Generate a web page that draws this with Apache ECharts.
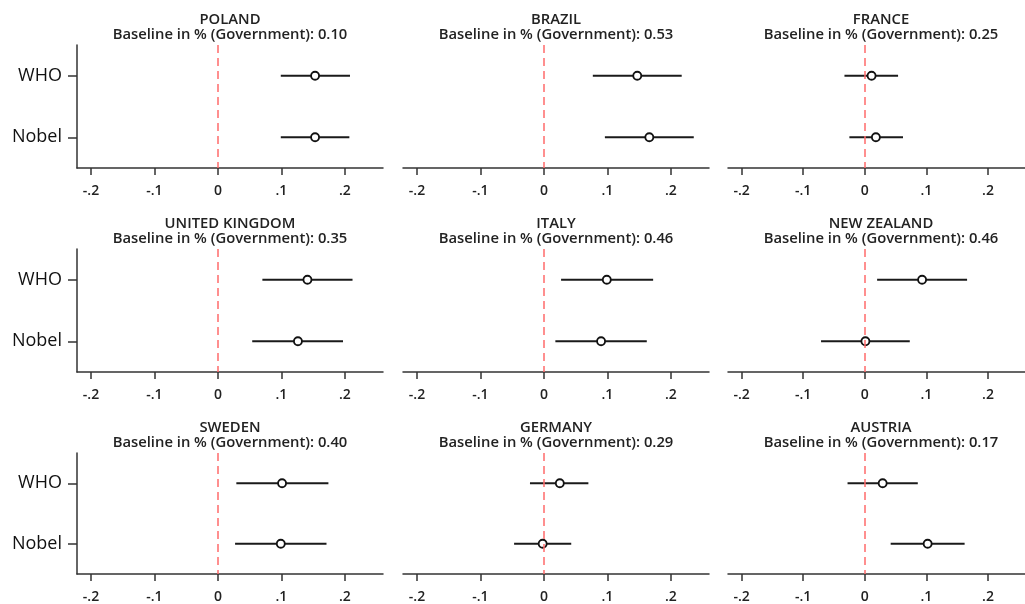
<!DOCTYPE html>
<html>
<head>
<meta charset="utf-8">
<script src="https://cdn.jsdelivr.net/npm/echarts@6/dist/echarts.min.js"></script>
<style>
  html, body { margin: 0; padding: 0; background: #fff; }
  #chart { width: 1025px; height: 604px; }
</style>
</head>
<body>
<div id="chart"></div>
<script>
// panels, read left to right, top to bottom
const countries = ['POLAND', 'BRAZIL', 'FRANCE', 'UNITED KINGDOM', 'ITALY', 'NEW ZEALAND', 'SWEDEN', 'GERMANY', 'AUSTRIA'];
const baselines = ['0.10', '0.53', '0.25', '0.35', '0.46', '0.46', '0.40', '0.29', '0.17'];
const treatments = ['WHO', 'Nobel'];

// point estimates and 95% CI bounds
const whoEst = [0.153, 0.147, 0.011, 0.141, 0.099, 0.093, 0.101, 0.025, 0.029];
const whoLow = [0.099, 0.077, -0.033, 0.070, 0.027, 0.020, 0.029, -0.022, -0.028];
const whoHigh = [0.208, 0.217, 0.054, 0.212, 0.172, 0.166, 0.174, 0.070, 0.086];

const nobelEst = [0.153, 0.166, 0.018, 0.126, 0.090, 0.001, 0.099, -0.002, 0.102];
const nobelLow = [0.099, 0.096, -0.025, 0.054, 0.018, -0.071, 0.027, -0.047, 0.042];
const nobelHigh = [0.207, 0.236, 0.062, 0.197, 0.162, 0.073, 0.171, 0.043, 0.162];

const xTickValues = [-0.2, -0.1, 0, 0.1, 0.2];
const xTickLabels = ['-.2', '-.1', '0', '.1', '.2'];

// layout
const colLeft = [77, 403, 728];
const rowTop = [45, 249, 453];
const panelW = 306;
const panelH = 123;
const axisColor = '#333';
const textColor = '#222';
const font = 'Open Sans';

const grids = [], xAxes = [], yAxes = [], titles = [], series = [];

countries.forEach((name, i) => {
    const col = i % 3;
    const row = Math.floor(i / 3);

    grids.push({ left: colLeft[col], top: rowTop[row], width: panelW, height: panelH });

    titles.push({
        text: name + '\n' + 'Baseline in % (Government): ' + baselines[i],
        left: colLeft[col] + panelW / 2,
        top: rowTop[row] - 32,
        textAlign: 'center',
        padding: 0,
        textStyle: {
            fontFamily: font,
            fontSize: 14.8,
            fontWeight: 600,
            color: textColor,
            lineHeight: 14.5
        }
    });

    xAxes.push({
        gridIndex: i,
        type: 'value',
        min: -0.222,
        max: 0.26,
        splitLine: { show: false },
        axisLine: { show: true, onZero: false, lineStyle: { color: axisColor, width: 1.5 } },
        axisTick: {
            show: true,
            customValues: xTickValues,
            length: 7,
            lineStyle: { color: axisColor, width: 1.5 }
        },
        axisLabel: {
            customValues: xTickValues,
            formatter: (v) => xTickLabels[xTickValues.findIndex(t => Math.abs(t - v) < 1e-9)],
            margin: 16,
            fontFamily: font,
            fontSize: 14,
            fontWeight: 600,
            color: textColor
        }
    });

    const leftCol = col === 0;
    yAxes.push({
        gridIndex: i,
        type: 'category',
        data: treatments,
        inverse: true,
        boundaryGap: true,
        show: leftCol,
        axisLine: { show: leftCol, onZero: false, lineStyle: { color: axisColor, width: 1.5 } },
        axisTick: { show: leftCol, alignWithLabel: true, length: 9, lineStyle: { color: axisColor, width: 1.5 } },
        axisLabel: { show: leftCol, margin: 15, fontFamily: font, fontSize: 18, color: '#111' },
        splitLine: { show: false }
    });

    // confidence intervals
    series.push({
        type: 'custom',
        xAxisIndex: i,
        yAxisIndex: i,
        encode: { x: [0, 1], y: 2 },
        data: [
            [whoLow[i], whoHigh[i], 0],
            [nobelLow[i], nobelHigh[i], 1]
        ],
        renderItem: (params, api) => {
            const a = api.coord([api.value(0), api.value(2)]);
            const b = api.coord([api.value(1), api.value(2)]);
            return {
                type: 'line',
                shape: { x1: a[0], y1: a[1], x2: b[0], y2: b[1] },
                style: { stroke: '#1a1a1a', lineWidth: 2 }
            };
        },
        z: 2
    });

    // point estimates + reference line at zero
    series.push({
        type: 'scatter',
        xAxisIndex: i,
        yAxisIndex: i,
        data: [[whoEst[i], 0], [nobelEst[i], 1]],
        symbol: 'circle',
        symbolSize: 8,
        itemStyle: { color: '#fff', borderColor: '#111', borderWidth: 1.8, opacity: 1 },
        z: 3,
        markLine: {
            silent: true,
            symbol: 'none',
            label: { show: false },
            lineStyle: { color: '#ff6b6b', type: [8, 5], width: 1.5 },
            data: [{ xAxis: 0 }]
        }
    });
});

const chart = echarts.init(document.getElementById('chart'));
chart.setOption({
    animation: false,
    backgroundColor: '#fff',
    title: titles,
    grid: grids,
    xAxis: xAxes,
    yAxis: yAxes,
    series: series
});
</script>
</body>
</html>
